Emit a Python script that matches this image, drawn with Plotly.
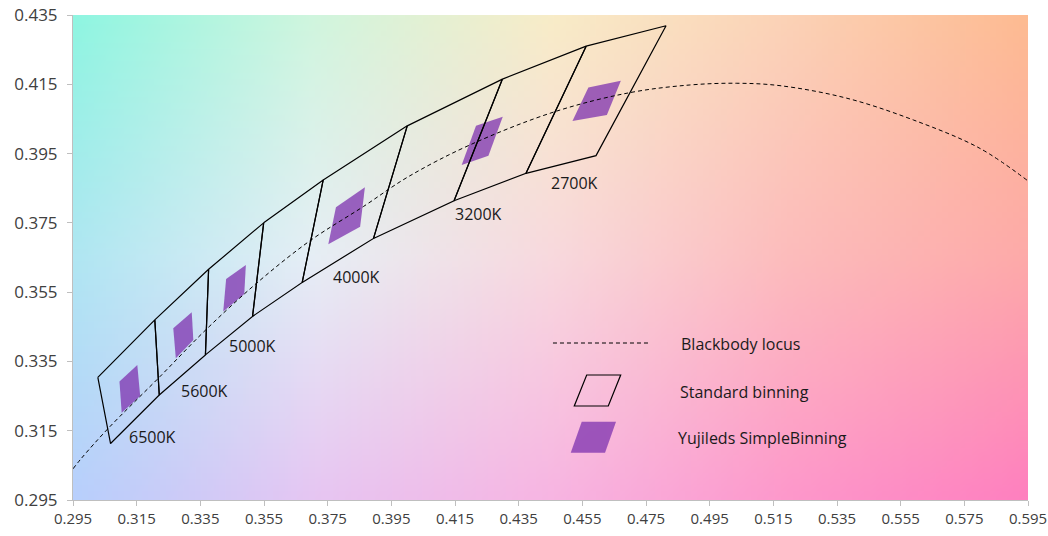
import base64
import struct
import zlib

import numpy as np
import plotly.graph_objects as go

# Blackbody (Planckian) locus
locus_x = [0.2950, 0.2977, 0.3061, 0.3223, 0.3367, 0.3527, 0.3694, 0.3862, 0.4003,
           0.4197, 0.4464, 0.4700, 0.4888, 0.5035, 0.5171, 0.5380, 0.5590, 0.5799, 0.5950]
locus_y = [0.3040, 0.3071, 0.3157, 0.3306, 0.3441, 0.3576, 0.3698, 0.3797, 0.3883,
           0.3975, 0.4071, 0.4126, 0.4148, 0.4153, 0.4146, 0.4110, 0.4047, 0.3965, 0.3871]

# Standard binning quadrangles, corners TL, TR, BR, BL
std_cct = ["6500K", "5700K", "5000K", "4500K", "4000K", "3500K", "3000K", "2700K"]
std_x = [
    [0.3028, 0.3207, 0.3221, 0.3068],
    [0.3207, 0.3376, 0.3366, 0.3221],
    [0.3376, 0.3549, 0.3514, 0.3366],
    [0.3549, 0.3736, 0.3670, 0.3514],
    [0.3736, 0.4000, 0.3894, 0.3670],
    [0.4000, 0.4299, 0.4147, 0.3894],
    [0.4299, 0.4562, 0.4373, 0.4147],
    [0.4562, 0.4813, 0.4593, 0.4373],
]
std_y = [
    [0.3304, 0.3470, 0.3253, 0.3113],
    [0.3470, 0.3616, 0.3369, 0.3253],
    [0.3616, 0.3750, 0.3480, 0.3369],
    [0.3750, 0.3874, 0.3578, 0.3480],
    [0.3874, 0.4030, 0.3705, 0.3578],
    [0.4030, 0.4165, 0.3814, 0.3705],
    [0.4165, 0.4260, 0.3893, 0.3814],
    [0.4260, 0.4319, 0.3944, 0.3893],
]

# Yujileds SimpleBinning regions, corners TL, TR, BR, BL
simple_cct = ["6500K", "5600K", "5000K", "4000K", "3200K", "2700K"]
simple_x = [
    [0.3096, 0.3152, 0.3161, 0.3103],
    [0.3265, 0.3323, 0.3328, 0.3273],
    [0.3431, 0.3493, 0.3488, 0.3422],
    [0.3776, 0.3867, 0.3852, 0.3752],
    [0.4216, 0.4300, 0.4255, 0.4171],
    [0.4569, 0.4671, 0.4627, 0.4519],
]
simple_y = [
    [0.3292, 0.3340, 0.3250, 0.3202],
    [0.3446, 0.3492, 0.3412, 0.3359],
    [0.3588, 0.3628, 0.3545, 0.3494],
    [0.3795, 0.3853, 0.3739, 0.3688],
    [0.4030, 0.4056, 0.3944, 0.3917],
    [0.4141, 0.4160, 0.4061, 0.4044],
]

# CCT labels and where they sit
label_text = ["6500K", "5600K", "5000K", "4000K", "3200K", "2700K"]
label_x = [0.3120, 0.3283, 0.3434, 0.3760, 0.4144, 0.4445]
label_y = [0.3132, 0.3265, 0.3395, 0.3594, 0.3776, 0.3865]

x_ticks = [round(0.295 + 0.02 * i, 3) for i in range(16)]
y_ticks = [round(0.295 + 0.02 * i, 3) for i in range(8)]

# background gradient control colours (top, middle, bottom rows; left -> right)
bg_top = ["#8ff5e1", "#d0f5de", "#f8ecc8", "#fbd2b6", "#fdbb92"]
bg_mid = ["#b0e6f2", "#e6eef5", "#f8d9de", "#fcbcbc", "#fdaaa9"]
bg_bot = ["#b8cffc", "#e6c6f2", "#f7b5e2", "#fd98cb", "#fe80bf"]


def hex_rgb(h):
    return [int(h[i:i + 2], 16) for i in (1, 3, 5)]


def gradient_png(rows, w=160, h=80):
    grid = np.array([[hex_rgb(c) for c in r] for r in rows], dtype=float)
    v = np.linspace(0, grid.shape[0] - 1, h)
    u = np.linspace(0, grid.shape[1] - 1, w)
    i0 = np.clip(np.floor(v).astype(int), 0, grid.shape[0] - 2)
    j0 = np.clip(np.floor(u).astype(int), 0, grid.shape[1] - 2)
    fv = (v - i0)[:, None, None]
    fu = (u - j0)[None, :, None]
    a = grid[i0][:, j0] * (1 - fu) + grid[i0][:, j0 + 1] * fu
    b = grid[i0 + 1][:, j0] * (1 - fu) + grid[i0 + 1][:, j0 + 1] * fu
    img = (a * (1 - fv) + b * fv).round().astype(np.uint8)
    raw = b"".join(b"\x00" + img[r].tobytes() for r in range(h))

    def chunk(tag, data):
        return (struct.pack(">I", len(data)) + tag + data
                + struct.pack(">I", zlib.crc32(tag + data) & 0xffffffff))

    png = (b"\x89PNG\r\n\x1a\n"
           + chunk(b"IHDR", struct.pack(">IIBBBBB", w, h, 8, 2, 0, 0, 0))
           + chunk(b"IDAT", zlib.compress(raw))
           + chunk(b"IEND", b""))
    return "data:image/png;base64," + base64.b64encode(png).decode()


FONT = "Open Sans"
PURPLE = "rgba(125,50,175,0.75)"

fig = go.Figure()

# SimpleBinning fills
for xs, ys, name in zip(simple_x, simple_y, simple_cct):
    fig.add_trace(go.Scatter(
        x=xs + xs[:1], y=ys + ys[:1], mode="lines", fill="toself",
        fillcolor=PURPLE, line=dict(width=0), name=name,
        hoverinfo="skip", showlegend=False,
    ))

# Standard binning outlines
for xs, ys, name in zip(std_x, std_y, std_cct):
    fig.add_trace(go.Scatter(
        x=xs + xs[:1], y=ys + ys[:1], mode="lines",
        line=dict(color="black", width=1.2), name=name,
        hoverinfo="skip", showlegend=False,
    ))

# Blackbody locus
fig.add_trace(go.Scatter(
    x=locus_x, y=locus_y, mode="lines",
    line=dict(color="black", width=1, dash="4px,3px", shape="spline"),
    hoverinfo="skip", showlegend=False,
))

for t, lx, ly in zip(label_text, label_x, label_y):
    fig.add_annotation(x=lx, y=ly, text=t, showarrow=False, xanchor="left",
                       yanchor="middle", font=dict(family=FONT, size=16, color="#1a1a1a"))

# hand-drawn legend
fig.add_shape(type="line", xref="paper", yref="paper", x0=0.5026, x1=0.6042,
              y0=0.3237, y1=0.3237, line=dict(color="black", width=1, dash="4px,3px"))
fig.add_shape(type="path", xref="paper", yref="paper",
              path="M 0.5379 0.2577 L 0.5735 0.2577 L 0.5605 0.1938 L 0.5249 0.1938 Z",
              line=dict(color="black", width=1.2), fillcolor="rgba(0,0,0,0)")
fig.add_shape(type="path", xref="paper", yref="paper",
              path="M 0.5327 0.1614 L 0.5686 0.1614 L 0.5571 0.0975 L 0.5212 0.0975 Z",
              line=dict(width=0), fillcolor=PURPLE)
for t, lx, ly in [("Blackbody locus", 0.6349, 0.3216),
                  ("Standard binning", 0.6338, 0.2233),
                  ("Yujileds SimpleBinning", 0.6314, 0.1272)]:
    fig.add_annotation(x=lx, y=ly, xref="paper", yref="paper", text=t, showarrow=False,
                       xanchor="left", yanchor="middle",
                       font=dict(family=FONT, size=16, color="#1a1a1a"))

fig.add_layout_image(dict(
    source=gradient_png([bg_top, bg_mid, bg_bot]), xref="x", yref="y",
    x=0.295, y=0.435, sizex=0.3, sizey=0.14, sizing="stretch",
    xanchor="left", yanchor="top", layer="below",
))

axis_style = dict(showgrid=False, zeroline=False, showline=True, linecolor="#bfbfbf",
                  linewidth=1, ticks="outside", ticklen=5, tickcolor="#bfbfbf",
                  tickformat=".3f", automargin=False, ticklabeloverflow="allow")
fig.update_xaxes(range=[0.295, 0.595], tickvals=x_ticks,
                 tickfont=dict(family=FONT, size=15, color="#404040"), **axis_style)
fig.update_yaxes(range=[0.295, 0.435], tickvals=y_ticks, ticklabelstandoff=6,
                 tickfont=dict(family=FONT, size=17, color="#404040"), **axis_style)

fig.update_layout(
    width=1048, height=536,
    margin=dict(l=73, r=20, t=15, b=36),
    paper_bgcolor="white", plot_bgcolor="white",
    showlegend=False,
)
fig.write_html("out.html", config={"displayModeBar": False},
               post_script="document.body.style.margin = '0';")
